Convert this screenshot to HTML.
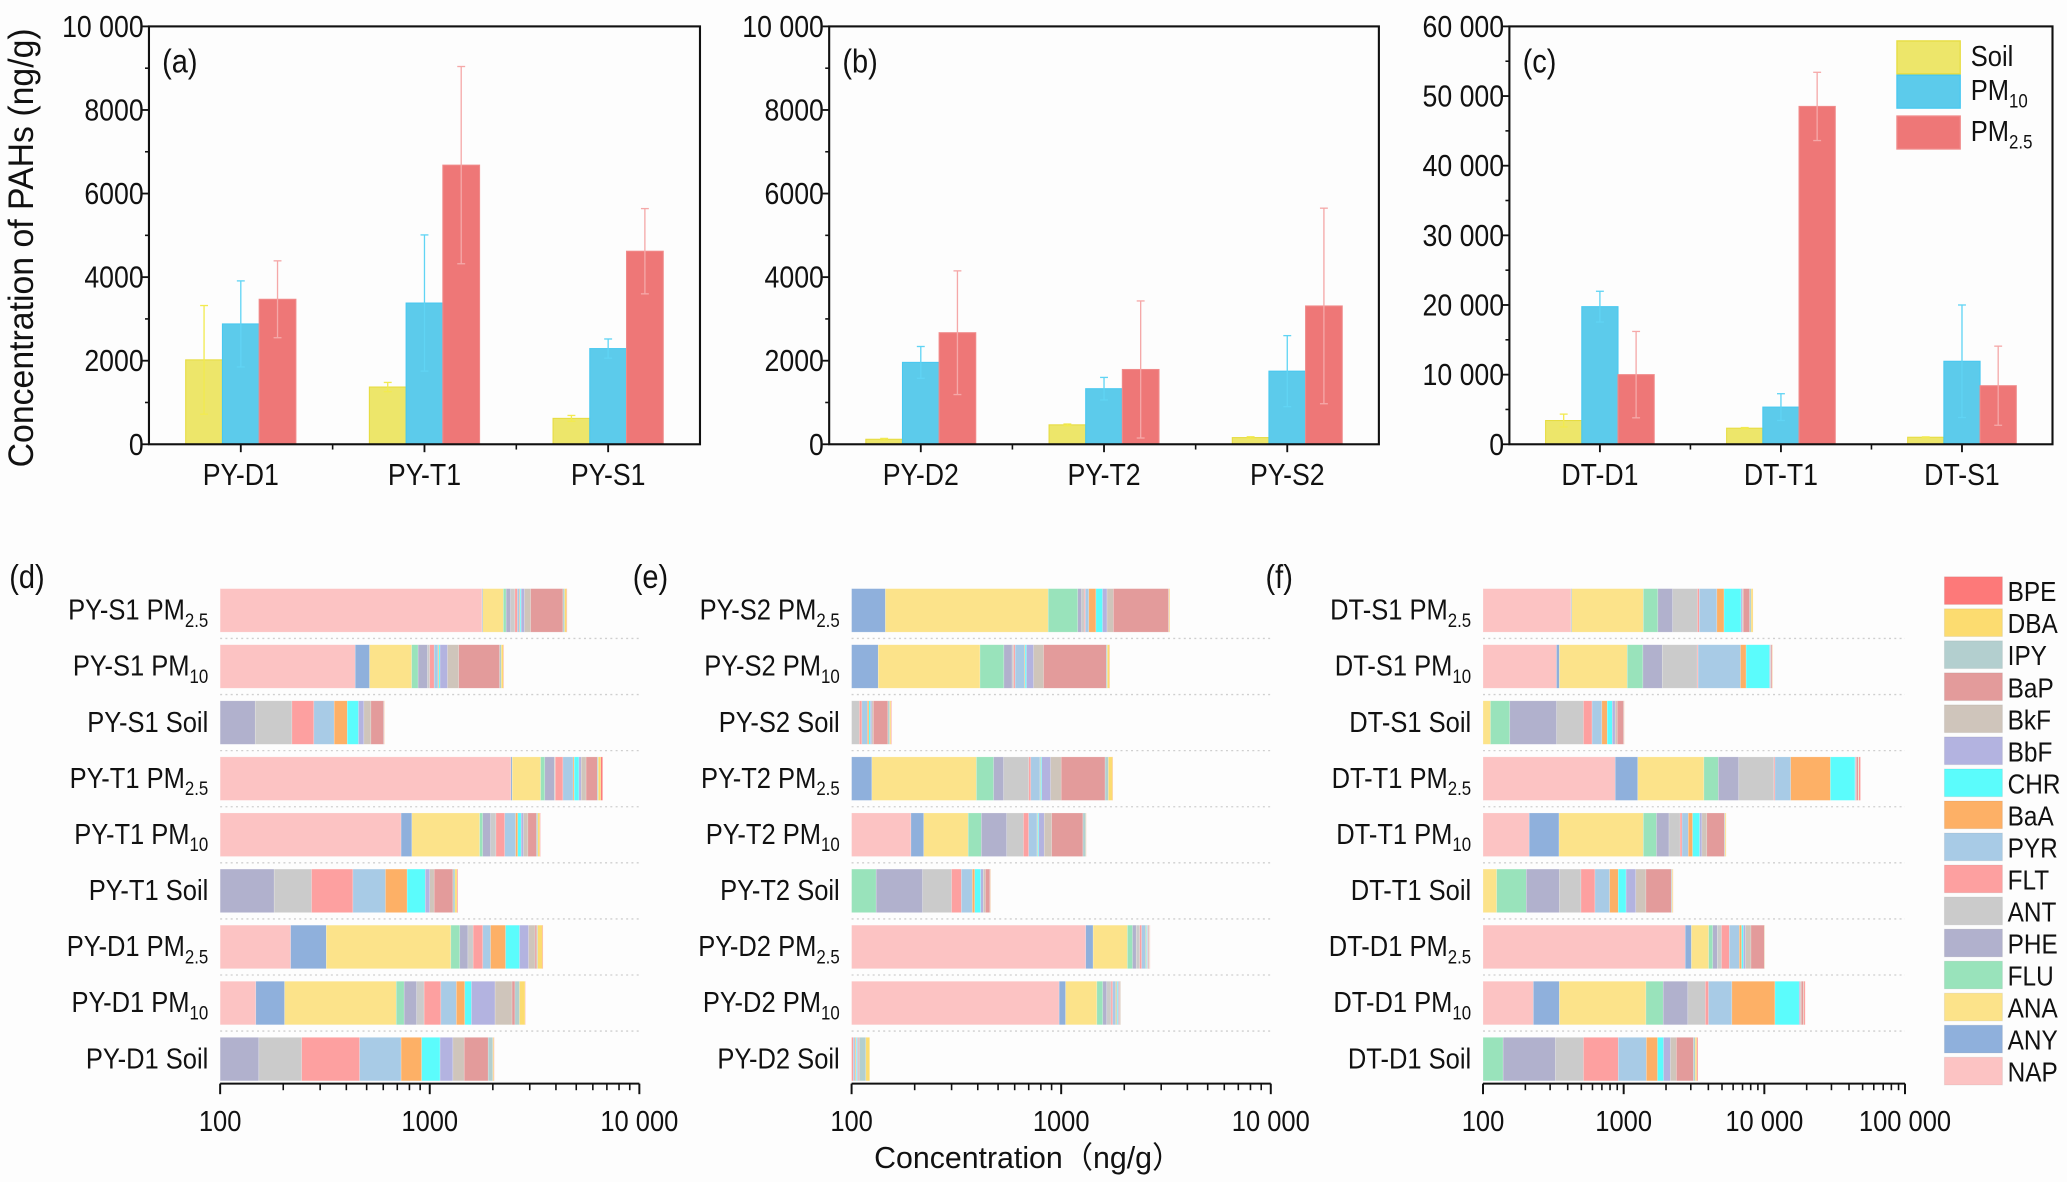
<!DOCTYPE html>
<html><head><meta charset="utf-8">
<style>
html,body{margin:0;padding:0;background:#fdfdfd;}
svg{display:block;}
text{font-family:"Liberation Sans",Arial,sans-serif;fill:#111;}
</style></head>
<body>
<svg id="fig" width="2067" height="1182" viewBox="0 0 1568 896.6" xmlns="http://www.w3.org/2000/svg"></svg>
<script>
// ---------- Top bar chart data ----------
const catsA = ["PY-D1","PY-T1","PY-S1"];
const catsB = ["PY-D2","PY-T2","PY-S2"];
const catsC = ["DT-D1","DT-T1","DT-S1"];
const soilA = [2020,1370,620];   const soilErrA = [1300,110,70];
const pm10A = [2880,3380,2290];  const pm10ErrA = [1030,1630,230];
const pm25A = [3470,6680,4620];  const pm25ErrA = [920,2360,1020];
const soilB = [120,465,160];     const soilErrB = [20,20,20];
const pm10B = [1960,1330,1750];  const pm10ErrB = [380,270,850];
const pm25B = [2670,1790,3310];  const pm25ErrB = [1480,1640,2340];
const soilC = [3410,2310,1010];  const soilErrC = [920,90,50];
const pm10C = [19760,5340,11920];const pm10ErrC = [2210,1920,8080];
const pm25C = [10000,48510,8410];const pm25ErrC = [6200,4900,5680];
const ticksAB = [0,2000,4000,6000,8000,10000];
const tickLabelsAB = ["0","2000","4000","6000","8000","10 000"];
const ticksC = [0,10000,20000,30000,40000,50000,60000];
const tickLabelsC = ["0","10 000","20 000","30 000","40 000","50 000","60 000"];

// ---------- Stacked bar data (order NAP ... BPE) ----------
const compounds = ["NAP","ANY","ANA","FLU","PHE","ANT","FLT","PYR","BaA","CHR","BbF","BkF","BaP","IPY","DBA","BPE"];
const compColors = ["#fcc3c3","#8fb0dc","#fce38a","#99e3bb","#b1b1cd","#cbcbcb","#fda0a0","#a8cbe6","#fdb066","#5bfcfc","#b3b3e0","#cfc5bb","#e39b9b","#b3cfcf","#fcdc70","#fd7979"];
const rowsD = [["PY-S1 PM","2.5"],["PY-S1 PM","10"],["PY-S1 Soil",""],["PY-T1 PM","2.5"],["PY-T1 PM","10"],["PY-T1 Soil",""],["PY-D1 PM","2.5"],["PY-D1 PM","10"],["PY-D1 Soil",""]];
const valuesD = [
 [1775,15,455,70,115,120,70,60,20,30,100,200,1290,80,100,20],
 [441,75,304,60,95,25,50,45,10,15,95,160,780,40,50,10],
 [20,5,10,10,102,73,60,70,54,53,28,39,79,3,2,1],
 [2440,35,905,160,390,40,350,510,60,260,130,290,730,70,180,130],
 [730,92,908,60,160,120,210,290,60,100,70,140,290,50,70,20],
 [20,5,10,10,136,92,157,185,165,172,48,50,240,30,30,10],
 [217,104,940,130,130,90,180,160,350,380,280,220,60,30,180,20],
 [148,55,489,63,111,74,190,210,130,110,470,420,80,130,170,10],
 [20,5,10,10,108,92,218,267,185,205,170,170,440,100,20,10]
];
const rowsE = [["PY-S2 PM","2.5"],["PY-S2 PM","10"],["PY-S2 Soil",""],["PY-T2 PM","2.5"],["PY-T2 PM","10"],["PY-T2 Soil",""],["PY-D2 PM","2.5"],["PY-D2 PM","10"],["PY-D2 Soil",""]];
const valuesE = [
 [60,85,722,333,50,40,15,50,110,110,80,120,1480,10,30,5],
 [60,74,276,123,50,10,10,65,5,10,55,86,817,20,40,5],
 [30,5,10,15,35,14,3,7,2,2,2,2,22,3,2,1],
 [60,65,269,82,55,170,15,76,5,10,83,110,620,60,80,5],
 [192,29,139,56,134,111,39,67,5,10,48,71,369,40,5,2],
 [40,10,15,66,87,82,34,43,10,26,12,10,22,2,2,1],
 [1310,110,650,120,90,90,50,110,20,20,20,20,20,10,10,5],
 [978,72,430,100,70,80,30,60,20,20,20,20,10,10,5,3],
 [40,10,15,15,15,5,2,2,1,1,1,1,1,8,5,0]
];
const rowsF = [["DT-S1 PM","2.5"],["DT-S1 PM","10"],["DT-S1 Soil",""],["DT-T1  PM","2.5"],["DT-T1  PM","10"],["DT-T1 Soil",""],["DT-D1 PM","2.5"],["DT-D1 PM","10"],["DT-D1 Soil",""]];
const valuesF = [
 [422,5,953,370,480,1120,100,1150,570,1660,150,100,780,200,240,10],
 [333,16,711,310,510,1450,50,3390,650,3480,150,100,200,50,80,20],
 [60,10,43,42,178,185,78,104,64,66,40,30,100,5,5,2],
 [871,389,2460,990,1870,5120,200,3500,14100,14600,500,500,1500,300,300,1000],
 [213,134,1033,330,390,420,80,280,210,380,130,300,1300,60,80,5],
 [60,10,55,78,146,148,128,170,120,125,180,220,740,30,30,5],
 [2740,290,990,280,330,330,680,1000,250,200,250,700,1960,50,50,10],
 [228,121,1091,470,950,950,200,1870,6020,5800,300,300,700,100,100,300],
 [60,10,20,49,188,191,397,535,290,180,230,220,760,100,80,50]
];

const NS="http://www.w3.org/2000/svg";
const svg=document.getElementById('fig');
function el(tag,attrs,parent){const e=document.createElementNS(NS,tag);for(const k in attrs)e.setAttribute(k,attrs[k]);(parent||svg).appendChild(e);return e;}
function txt(x,y,s,size,anchor,sub,parent){
  const t=el('text',{transform:`translate(${x},${y}) scale(0.88,1)`,'font-size':size,'text-anchor':anchor||'start'},parent);
  t.appendChild(document.createTextNode(s));
  if(sub){const ts=el('tspan',{'font-size':size*0.66,dy:size*0.25},t);ts.textContent=sub;}
  return t;
}

// ---------- Top bar charts ----------
const top0=20, bot0=337;
function barPanel(id,left,right,cats,ymax,ticks,tlabs,minorStep,series,letter){
  const g=el('g',{});
  
  
  const cx=i=>left+(right-left)*(i+0.5)/cats.length;
  const y=v=>bot0-(v/ymax)*(bot0-top0);
  const bw=(right-left)/cats.length*0.2;
  series.forEach((s,si)=>{
    s.vals.forEach((v,i)=>{
      const x=cx(i)+(si-1)*bw-bw/2;
      const r=el('rect',{x:x,y:y(v),width:bw,height:bot0-y(v),fill:s.fill,stroke:s.stroke,'stroke-width':0.8},g);
      
      
    });
  });
  series.forEach((s,si)=>{
    s.vals.forEach((v,i)=>{
      const x=cx(i)+(si-1)*bw;
      const e=s.err[i];
      const eg=el('g',{stroke:s.errc,'stroke-width':1},g);
      
      
      el('line',{x1:x,x2:x,y1:y(Math.max(0,v-e)),y2:y(v+e)},eg);
      el('line',{x1:x-3,x2:x+3,y1:y(v+e),y2:y(v+e)},eg);
      el('line',{x1:x-3,x2:x+3,y1:y(Math.max(0,v-e)),y2:y(Math.max(0,v-e))},eg);
    });
  });
  const f=el('rect',{x:left,y:top0,width:right-left,height:bot0-top0,fill:'none',stroke:'#111','stroke-width':1.6},g);
  
  
  ticks.forEach((t,i)=>{
    el('line',{x1:left-5,x2:left,y1:y(t),y2:y(t),stroke:'#111','stroke-width':1.4},g);
    const l=txt(left-4,y(t)+8,tlabs[i],23,'end',null,g);
    
    
  });
  for(let v=minorStep; v<ymax; v+=minorStep){
    if(ticks.indexOf(v)<0) el('line',{x1:left-3,x2:left,y1:y(v),y2:y(v),stroke:'#111','stroke-width':1.2},g);
  }
  cats.forEach((c,i)=>{
    el('line',{x1:cx(i),x2:cx(i),y1:bot0,y2:bot0+6,stroke:'#111','stroke-width':1.4},g);
    const l=txt(cx(i),bot0+31,c,23,'middle',null,g);
    
    
    if(i>0) el('line',{x1:left+(right-left)*i/cats.length,x2:left+(right-left)*i/cats.length,y1:bot0,y2:bot0+4,stroke:'#111','stroke-width':1.2},g);
  });
  const pl=txt(left+10,top0+35,letter,25,'start',null,g);
  
  
}
const sty=[{name:'soil',fill:'#ede66a',stroke:'#e6dc40',errc:'#f2ea50'},{name:'pm10',fill:'#5ccbeb',stroke:'#48c8f0',errc:'#60d4f4'},{name:'pm25',fill:'#ee7777',stroke:'#f08a8a',errc:'#f5a8a8'}];
function mk(v,e){return sty.map((s,i)=>Object.assign({vals:v[i],err:e[i]},s));}
barPanel('chart-a',113,531,catsA,10000,ticksAB,tickLabelsAB,1000,mk([soilA,pm10A,pm25A],[soilErrA,pm10ErrA,pm25ErrA]),'(a)');
barPanel('chart-b',629,1046,catsB,10000,ticksAB,tickLabelsAB,1000,mk([soilB,pm10B,pm25B],[soilErrB,pm10ErrB,pm25ErrB]),'(b)');
barPanel('chart-c',1145,1557,catsC,60000,ticksC,tickLabelsC,5000,mk([soilC,pm10C,pm25C],[soilErrC,pm10ErrC,pm25ErrC]),'(c)');

const lgT=el('g',{});


[['Soil',''],['PM','10'],['PM','2.5']].forEach((s,i)=>{
  const yy=[31,57,88][i];
  const r=el('rect',{x:1439,y:yy,width:48,height:25,fill:sty[i].fill,stroke:sty[i].stroke,'stroke-width':1},lgT);
  
  
  const t=txt(1495,yy+19,s[0],22,'start',s[1],lgT);
  
  
});

const yt=el('text',{transform:'translate(25,188) rotate(-90) scale(0.95,1)','font-size':27,'text-anchor':'middle'});
yt.textContent='Concentration of PAHs (ng/g)';



// ---------- Stacked log bar charts ----------
const rowY0=463, rowPitch=42.55, barH=33, axisY=822;
function stackPanel(id,x100,decadePx,decades,rows,vals,letter,letterX){
  const g=el('g',{});
  
  
  const X=v=>x100+Math.log10(Math.max(v,100)/100)*decadePx;
  const xEnd=x100+decades*decadePx;
  rows.forEach((r,ri)=>{
    const cy=rowY0+ri*rowPitch;
    let cum=0;
    vals[ri].forEach((v,ci)=>{
      const a=cum, b=cum+v; cum=b;
      if(b<=100) return;
      const x1=X(a), x2=X(b);
      const rect=el('rect',{x:x1,y:cy-barH/2,width:Math.max(0,x2-x1),height:barH,fill:compColors[ci],stroke:'rgba(255,255,255,0.35)','stroke-width':0.4},g);
      
      
    });
    const lab=txt(x100-9,cy+7,r[0],22,'end',r[1],g);
    
    
    if(ri<rows.length-1){
      const sep=el('line',{x1:x100,x2:xEnd,y1:cy+21.3,y2:cy+21.3,stroke:'#cfcfcf','stroke-width':1,'stroke-dasharray':'1.5,2.5'},g);
      
      
    }
  });
  el('line',{x1:x100,x2:xEnd,y1:axisY,y2:axisY,stroke:'#111','stroke-width':1.6},g);
  for(let d=0; d<=decades; d++){
    const v=100*Math.pow(10,d);
    const x=X(v);
    el('line',{x1:x,x2:x,y1:axisY,y2:axisY+8,stroke:'#111','stroke-width':1.5},g);
    const lbl = v>=10000 ? String(v).replace(/(\d)(?=(\d{3})$)/,'$1 ') : String(v);
    const t=txt(x,axisY+36,lbl,22,'middle',null,g);
    
    
    if(d<decades) for(let m=2;m<=9;m++){
      const xm=X(v*m);
      el('line',{x1:xm,x2:xm,y1:axisY,y2:axisY+5,stroke:'#111','stroke-width':1.2},g);
    }
  }
  const pl=txt(letterX,446,letter,25,'start',null,g);
  
  
}
stackPanel('chart-d',167,159,2,rowsD,valuesD,'(d)',7);
stackPanel('chart-e',646,159,2,rowsE,valuesE,'(e)',480);
stackPanel('chart-f',1125,106.7,3,rowsF,valuesF,'(f)',960);

const xt=el('text',{x:780,y:886,'font-size':23,'text-anchor':'middle'});
xt.textContent='Concentration（ng/g）';
xt.setAttribute('font-family','"Liberation Sans","Noto Sans CJK SC",sans-serif');



const lg=el('g',{});


for(let i=0;i<compounds.length;i++){
  const ci=compounds.length-1-i;
  const cy=448+i*24.3;
  const r=el('rect',{x:1475,y:cy-10.5,width:44,height:21,fill:compColors[ci],stroke:'rgba(0,0,0,0.06)','stroke-width':0.8},lg);
  
  
  const t=txt(1523,cy+8,compounds[ci],21,'start',null,lg);
  
  
}
</script>
</body></html>
